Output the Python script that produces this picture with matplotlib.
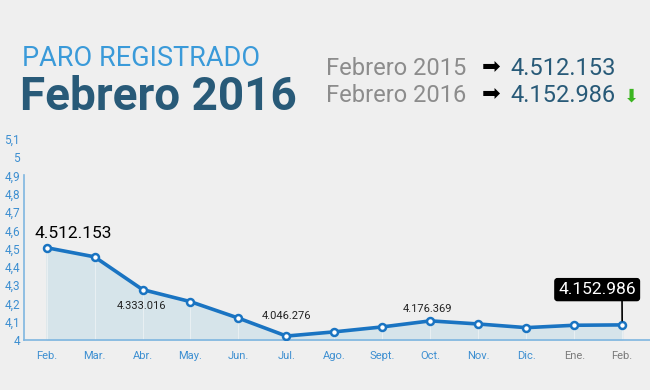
import numpy as np
import matplotlib
matplotlib.use("Agg")
import matplotlib.pyplot as plt

plt.rcParams["font.family"] = ["Roboto", "DejaVu Sans"]

months = ["Feb.", "Mar.", "Abr.", "May.", "Jun.", "Jul.", "Ago.", "Sept.",
          "Oct.", "Nov.", "Dic.", "Ene.", "Feb."]
paro = [4.505, 4.455, 4.276, 4.21, 4.12, 4.022, 4.045, 4.072, 4.105, 4.088,
        4.068, 4.081, 4.083]
yticks = [4.0, 4.1, 4.2, 4.3, 4.4, 4.5, 4.6, 4.7, 4.8, 4.9, 5.0, 5.1]
ylabels = ["4", "4,1", "4,2", "4,3", "4,4", "4,5", "4,6", "4,7", "4,8", "4,9", "5", "5,1"]
callouts = {0: "4.512.153", 2: "4.333.016", 5: "4.046.276", 8: "4.176.369"}
last_label = "4.152.986"

BG = "#efefef"
BLUE = "#1a74c2"
TICKBLUE = "#3d8fd1"
DARK = "#285a78"

fig = plt.figure(figsize=(6.5, 3.9), dpi=100, facecolor=BG)
ax = fig.add_axes([0.037, 0.128, 0.963, 0.516])
ax.set_facecolor(BG)
x = np.arange(len(paro))

ax.fill_between(x, 4.0, paro, color="#d6e4ea", zorder=1)
for xi, yi in zip(x, paro):
    ax.plot([xi, xi], [4.0, yi], color="#e8eff2", lw=0.8, zorder=1.5)
ax.plot(x, paro, color=BLUE, lw=2.6, zorder=3, solid_joinstyle="round")
ax.plot(x, paro, "o", ms=5, mfc="white", mec=BLUE, mew=1.8, zorder=4)

ax.set_xlim(-0.47, 12.58)
ax.set_ylim(4.0, 5.1)
ax.set_yticks(yticks)
ax.set_yticklabels(ylabels)
ax.set_xticks(x)
ax.set_xticklabels(months)
ax.tick_params(axis="x", length=0, labelsize=8, colors=TICKBLUE, pad=8)
ax.tick_params(axis="y", length=0, labelsize=8.5, colors=TICKBLUE, pad=3)
for lab in ax.get_xticklabels()[-2:]:
    lab.set_color("#7a7a7a")
for s in ["top", "right"]:
    ax.spines[s].set_visible(False)
ax.spines["left"].set_bounds(4.0, 4.9)
for s in ["left", "bottom"]:
    ax.spines[s].set_color("#7fb6e0")
    ax.spines[s].set_linewidth(1.2)

# value callouts
ax.annotate(callouts[0], (0, paro[0]), xytext=(-9, 5), textcoords="offset points",
            fontsize=12.5, color="black", ha="left", va="bottom")
ax.annotate(callouts[2], (2, paro[2]), xytext=(-0.5, -8), textcoords="offset points",
            fontsize=8, color="#222222", ha="center", va="top")
ax.annotate(callouts[5], (5, paro[5]), xytext=(0, 11), textcoords="offset points",
            fontsize=8, color="#222222", ha="center", va="bottom")
ax.annotate(callouts[8], (8, paro[8]), xytext=(-2, 5), textcoords="offset points",
            fontsize=8, color="#222222", ha="center", va="bottom")
ax.annotate(last_label, (12, paro[-1]), xytext=(-18, 20), textcoords="offset points",
            fontsize=12.5, color="white", ha="center", va="bottom", zorder=6,
            bbox=dict(boxstyle="round,pad=0.2,rounding_size=0.15", fc="black", ec="black"),
            arrowprops=dict(arrowstyle="-", color="black", lw=1.2, shrinkA=0, shrinkB=3,
                            relpos=(0.82, 0.0)))

# header
fig.text(0.034, 0.85, "PARO REGISTRADO", fontsize=19.5, color="#3a9ad9",
         fontweight="normal", va="center", ha="left")
fig.text(0.030, 0.75, "Febrero 2016", fontsize=33, color=DARK,
         fontweight="bold", va="center", ha="left")
fig.text(0.502, 0.825, "Febrero 2015", fontsize=17, color="#8c8c8c", va="center")
fig.text(0.502, 0.755, "Febrero 2016", fontsize=17, color="#8c8c8c", va="center")
fig.text(0.741, 0.829, "\u27a1", fontsize=16, color="black", va="center",
         family="DejaVu Sans")
fig.text(0.741, 0.759, "\u27a1", fontsize=16, color="black", va="center",
         family="DejaVu Sans")
fig.text(0.785, 0.825, "4.512.153", fontsize=17, color=DARK, va="center")
fig.text(0.785, 0.755, "4.152.986", fontsize=17, color=DARK, va="center")
fig.text(0.960, 0.752, "\u2b07", fontsize=13, color="#3cb521", va="center",
         family="DejaVu Sans")

fig.savefig("out.png", dpi=100, facecolor=BG)
